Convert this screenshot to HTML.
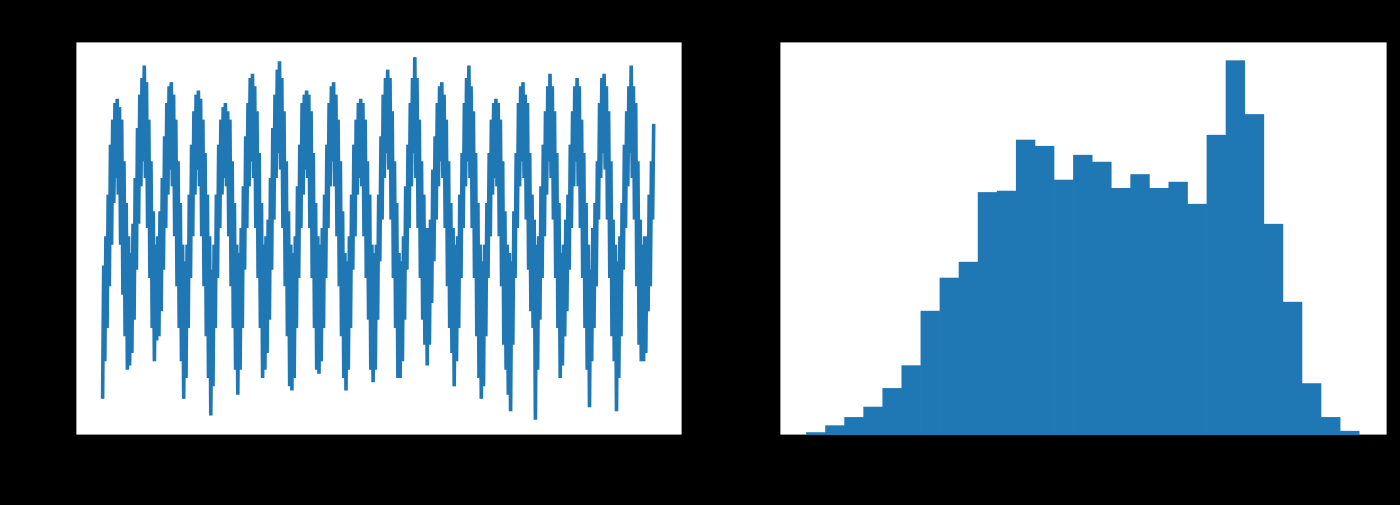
<!DOCTYPE html>
<html><head><meta charset="utf-8"><style>
html,body{margin:0;padding:0;background:#000;width:1400px;height:505px;overflow:hidden}
svg{display:block;font-family:"DejaVu Sans","Liberation Sans",sans-serif}
</style></head><body>
<svg id="c" width="1400" height="505">
<rect width="1400" height="505" fill="#000"/>
</svg>
<script>
const tempMax = [
45,52,62,74,80,84,85,83,80,70,60,52,
48,55,66,78,86,90,93,89,80,70,58,50,
52,58,66,76,84,88,89,86,80,70,60,50,
46,50,62,74,82,86,87,85,80,72,62,52,
44,50,62,74,80,83,84,82,80,70,60,50,
48,54,64,76,84,90,91,88,82,72,60,50,
52,56,66,78,86,92,94,90,82,70,58,50,
48,52,64,74,84,86,87,86,82,72,60,52,
50,54,62,74,84,88,89,86,80,70,58,48,
46,52,62,74,80,84,85,84,80,70,62,50,
48,50,62,76,86,90,92,90,82,70,60,48,
46,52,64,74,84,90,95,90,80,70,62,54,
54,56,68,76,84,88,89,86,80,70,60,54,
50,52,62,72,84,90,93,88,82,72,60,50,
46,50,60,72,80,84,85,84,80,70,58,50,
48,46,58,72,84,88,89,86,84,72,62,56,
50,52,64,74,82,88,91,88,82,72,60,48,
50,56,62,74,82,88,90,88,80,72,60,50,
44,54,60,70,84,90,91,88,82,70,56,50,
46,52,60,74,82,88,93,88,84,70,56,50,
52,52,62,70,79];
const tempMin = [
13,22,30,40,50,60,66,62,50,38,28,20,
21,24,32,44,55,64,70,66,54,42,30,22,
27,28,34,44,54,62,68,64,52,40,30,22,
13,18,30,42,52,62,68,64,52,40,28,18,
9,16,30,42,54,62,66,64,52,40,30,20,
14,20,30,44,54,64,70,66,54,42,30,18,
20,24,32,44,56,66,72,68,54,40,28,16,
15,18,30,42,54,62,68,66,54,42,30,20,
19,22,30,42,54,64,70,64,52,40,28,18,
15,20,30,44,52,62,66,64,52,42,32,20,
17,20,32,46,56,66,72,68,56,42,30,18,
18,22,32,44,54,64,72,66,54,42,32,26,
21,26,36,46,56,64,70,66,54,40,30,24,
16,22,30,42,54,64,70,66,54,42,28,18,
13,16,28,42,52,62,66,64,52,40,26,20,
14,10,26,42,54,64,70,66,56,44,34,30,
8,20,32,42,52,62,70,66,56,42,30,18,
21,28,34,44,54,64,70,64,54,42,30,20,
11,22,30,40,56,66,72,68,56,42,28,22,
10,18,28,44,54,64,72,66,56,40,26,22,
22,24,34,40,56];
const yearTicks = [2000,2004,2008,2012,2016,2020];
const tempTicks = [20,40,60,80];
const histStart = 8.2;
const histBinWidth = 2.966;
const histCounts = [4,14,26,41,68,101,180,228,251,352,354,428,419,370,406,396,358,378,358,367,335,435,543,465,306,193,75,26,6];
const histXTicks = [20,40,60,80];
const histYTicks = [0,100,200,300,400,500];

const NS="http://www.w3.org/2000/svg";
const svg=document.getElementById('c');
function mk(tag,attrs,parent){const e=document.createElementNS(NS,tag);for(const k in attrs)e.setAttribute(k,attrs[k]);(parent||svg).appendChild(e);return e;}
const BLUE="#1f77b4";

const L={x0:76,x1:682,y0:42,y1:435};
const lx=t=>102+(t-2000)*27.05;
const ly=v=>453-v*4.167;
const la=mk('rect',{x:L.x0,y:L.y0,width:L.x1-L.x0,height:L.y1-L.y0,fill:'#fff',stroke:'#000','stroke-width':0.8});


let pts=[];
for(let k=0;k<tempMax.length;k++){
  const t=2000+k/12;
  pts.push(lx(t+1/48).toFixed(1)+','+ly(tempMin[k]).toFixed(1));
  pts.push(lx(t+3/48).toFixed(1)+','+ly(tempMax[k]).toFixed(1));
}
const line=mk('polyline',{points:pts.join(' '),fill:'none',stroke:BLUE,'stroke-width':3.6,'stroke-linejoin':'miter'});


yearTicks.forEach(y=>{
  mk('line',{x1:lx(y),x2:lx(y),y1:L.y1,y2:L.y1+4,stroke:'#000'});
  const t=mk('text',{x:lx(y),y:L.y1+27,'text-anchor':'middle','font-size':14,fill:'#000'});t.textContent=y;
  
  
});
tempTicks.forEach(v=>{
  mk('line',{x1:L.x0-4,x2:L.x0,y1:ly(v),y2:ly(v),stroke:'#000'});
  const t=mk('text',{x:L.x0-8,y:ly(v)+5,'text-anchor':'end','font-size':14,fill:'#000'});t.textContent=v;
  
  
});
let t1=mk('text',{x:379,y:30,'text-anchor':'middle','font-size':19,fill:'#000'});t1.textContent='Daily Average Temperature';


let t2=mk('text',{x:379,y:488,'text-anchor':'middle','font-size':16,fill:'#000'});t2.textContent='Year';


let t3=mk('text',{x:22,y:238,'text-anchor':'middle','font-size':16,fill:'#000',transform:'rotate(-90 22 238)'});t3.textContent='Temperature (F)';



const R={x0:780,x1:1387,y0:42,y1:435};
const rx=v=>882+(v-20)*6.43;
const ry=c=>435-c*0.69;
const ra=mk('rect',{x:R.x0,y:R.y0,width:R.x1-R.x0,height:R.y1-R.y0,fill:'#fff',stroke:'#000','stroke-width':0.8});


histCounts.forEach((c,i)=>{
  const a=histStart+i*histBinWidth,b=a+histBinWidth;
  const r=mk('rect',{x:rx(a),y:ry(c),width:rx(b)-rx(a)+0.3,height:ry(0)-ry(c),fill:BLUE});
  
  
});
histXTicks.forEach(v=>{
  mk('line',{x1:rx(v),x2:rx(v),y1:R.y1,y2:R.y1+4,stroke:'#000'});
  const t=mk('text',{x:rx(v),y:R.y1+27,'text-anchor':'middle','font-size':14,fill:'#000'});t.textContent=v;
  
  
});
histYTicks.forEach(v=>{
  mk('line',{x1:R.x0-4,x2:R.x0,y1:ry(v),y2:ry(v),stroke:'#000'});
  const t=mk('text',{x:R.x0-8,y:ry(v)+5,'text-anchor':'end','font-size':14,fill:'#000'});t.textContent=v;
  
  
});
let t4=mk('text',{x:1083,y:30,'text-anchor':'middle','font-size':19,fill:'#000'});t4.textContent='Distribution of Daily Average Temperature';


let t5=mk('text',{x:1083,y:488,'text-anchor':'middle','font-size':16,fill:'#000'});t5.textContent='Temperature (F)';


let t6=mk('text',{x:716,y:238,'text-anchor':'middle','font-size':16,fill:'#000',transform:'rotate(-90 716 238)'});t6.textContent='Count';


</script>
</body></html>
